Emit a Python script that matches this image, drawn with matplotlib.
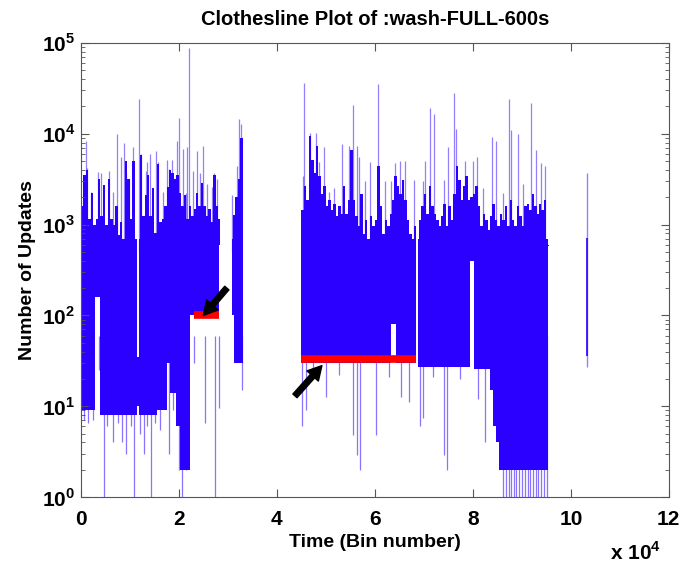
import numpy as np
import matplotlib.pyplot as plt
from matplotlib.ticker import FixedLocator, FuncFormatter, NullFormatter

plt.rcParams['font.family'] = ['Liberation Sans', 'DejaVu Sans']
plt.rcParams['font.weight'] = 'bold'
plt.rcParams['mathtext.fontset'] = 'custom'
plt.rcParams['mathtext.rm'] = 'Liberation Sans:bold'
plt.rcParams['mathtext.bf'] = 'Liberation Sans:bold'

# dense band of updates: bin edges and band floor per block (nan = no data)
band_edges = [0, 2000, 2800, 4000, 6500, 9000, 11500, 11900, 15500, 17600, 18200,
              19500, 20200, 22200, 28300, 30900, 31200, 33000, 45000, 46600, 48500,
              55000, 59000, 63300, 64300, 68500, 68900, 74500, 79400, 80300, 83500,
              84200, 84700, 85300, 90000, 95300]
band_lo = [9, 9, 160, 8, 8, 8, 10, 8, 9, 30, 14, 6, 2, 100, np.nan, 100, 30, np.nan,
           30, 30, 30, 30, 30, 80, 30, np.nan, 27, 27, 400, 26, 15, 6, 4, 2, 2]
band_hi = [700, 700, 700, 700, 700, 700, 35, 700, 700, 700, 700, 700, 700, 700,
           np.nan, 700, 700, np.nan, 700, 700, 700, 700, 700, 700, 700, np.nan,
           700, 700, 700, 700, 700, 700, 700, 700, 700]

# upper edge of the solid band, one value per 500 bins
ridge1_start = 0
ridge1_top = [1600, 3500, 4000, 1150, 2200, 980, 1150, 3200, 1250, 2700, 980, 3200,
              1150, 980, 1600, 760, 1070, 630, 5000, 3200, 1150, 5000, 690, np.nan,
              5900, 1250, 2100, 3500, 1250, 2500, 810, 4600, 1070, 1150, 1600, 2600,
              4000, 3700, 3200, 3500, 2200, 1600, 2100, 1150, 1600, 1250, 1500, 2200,
              1600, 2900, 1600, 1250, 1500, 1070, 3500, 1600, 1150]
ridge2_start = 31000
ridge2_top = [1260, 2000, 3200, 9000]
ridge3_start = 45000
ridge3_top = [1445, 2630, 1862, 9333, 5129, 3715, 7244, 3388, 2188, 2630, 1585, 1862,
              1445, 1698, 1230, 1585, 1318, 2630, 1318, 1862, 6607, 1862, 1230, 955,
              2188, 794, 1122, 676, 1230, 955, 1122, 4365, 1585, 794, 1122, 955, 1318,
              1862, 3388, 2630, 2188, 3090, 1862, 1122, 794, 676, 955, np.nan, 1122,
              1585, 2188, 1318, 2630, 1585, 1318, 1122, 955, 1230, 1698, 955, 1585,
              1122, 2188, 4365, 3090, 1862, 2630, 3388, 1862, 1995, 2188, 2630, 1585,
              955, 1318, 1122, 871, 1230, 1698, 1122, 955, 1318, 1122, 1585, 955, 1862,
              1122, 955, 1585, 1230, 955, 1585, 1698, 1445, 2188, 1585, 1318, 1698,
              1445, 1862, 575]

# single bins rising above the band
spike_x = [200, 1000, 1300, 2100, 3500, 4200, 5700, 6600, 7300, 8100, 8800, 9300,
           9800, 10600, 11900, 12200, 13200, 13600, 14100, 15300, 15800, 16700, 17500,
           18000, 18600, 19400, 19600, 20000, 20900, 21500, 21700, 22100, 22800, 23800,
           24300, 24900, 25700, 26700, 27200, 27700,
           30900, 31900, 32300, 32600,
           45400, 45600, 46800, 48000, 48600, 49700, 50700, 51700, 53300, 54700, 55600,
           56300, 56800, 58000, 59000, 60600, 62100, 63200, 64100, 65200, 66200, 67900,
           69800, 70200, 71200, 72100, 74100, 75000, 76200, 76500, 78500, 80100, 80900,
           82100, 84000, 84800, 86200, 87300, 87700, 89200, 90300, 91900, 92800, 93900,
           94700]
spike_top = [1600, 8300, 4200, 2300, 3800, 3700, 3900, 2300, 10000, 5500, 7900, 3700,
             3200, 7200, 24000, 6000, 3900, 4900, 6000, 6500, 4900, 2300, 5100,
             4100, 5100, 3500, 8300, 15000, 6800, 2200, 7100, 88000, 3900, 6500,
             3700, 7400, 2800, 2600, 3700, 3200,
             2100, 4400, 14500, 12900,
             3400, 36000, 10200, 10200, 4900, 7100, 2300, 2500, 7800, 7400, 21000,
             7400, 5500, 3000, 4900, 35000, 3000, 3000, 4800, 5000, 5000, 3100,
             3000, 5000, 19000, 16600, 3100, 7200, 28000, 11200, 5000, 5000, 5600,
             2500, 9100, 8300, 2200, 24000, 11000, 10000, 2800, 22000, 6700, 4800,
             4400]

# single bins dropping below the band
dip_x = [700, 1500, 2400, 3800, 4700, 5300, 6500, 7600, 8300, 9300, 10200, 10900,
         12100, 12800, 13500, 14300, 15100, 16200, 17900, 18800, 20000,
         20600, 21500, 23100, 25300, 27400, 28200, 32900,
         45200, 45900, 47300, 50000, 52600, 55600, 56300, 57000, 60300, 62800, 65400,
         67000, 69200, 69800, 71800, 74100, 74700, 77300, 81100, 82500,
         86200, 86700, 87300, 87800, 88400, 88900, 89500, 90100, 90600, 91200, 91700,
         92300, 92800, 93400, 94000, 94600, 95100]
dip_low = [7, 6.5, 7, 25, 1, 6, 4, 6.5, 4, 3, 6, 1,
           5, 3, 6, 1, 6.5, 5.5, 3, 9, 2,
           1, 2, 30, 6.5, 1, 9.5, 15,
           6, 9, 20, 12.5, 22, 4.8, 2.9, 2, 4.8, 21, 12.5,
           11, 6, 7.5, 21, 2.9, 2, 20, 12, 4,
           1, 1, 1, 1, 1, 1, 1, 1, 1, 1, 1, 1, 1, 1, 1, 1, 1]

# lone burst near the end
lone_x = 103300
lone_lo, lone_hi = 27, 3700
lone_core_lo, lone_core_hi = 36, 720

# the two flat stretches marked in red
flat_start = [23000, 45000]
flat_end = [28200, 68500]
flat_level = [100, 33]

# arrows: tail (x, y) and head (x, y)
arrow_tail = [(29800, 200), (43700, 13)]
arrow_head = [(25000, 100), (49200, 28)]

blue = '#2b00ff'

fig = plt.figure(figsize=(6.81, 5.69), dpi=100)
ax = fig.add_axes([0.1187, 0.1265, 0.8634, 0.798])
ax.set_yscale('log')

edges = np.array(band_edges, dtype=float)
lo = np.array(band_lo, dtype=float)
hi = np.array(band_hi, dtype=float)
ok = ~np.isnan(lo)
ax.bar(edges[:-1][ok], (hi - lo)[ok], width=np.diff(edges)[ok], bottom=lo[ok],
       align='edge', color=blue, linewidth=0)

for start, tops in [(ridge1_start, ridge1_top), (ridge2_start, ridge2_top),
                    (ridge3_start, ridge3_top)]:
    tops = np.array(tops, dtype=float)
    xs = start + 500 * np.arange(len(tops))
    good = ~np.isnan(tops)
    ax.bar(xs[good], tops[good] - 600, width=500, bottom=600, align='edge',
           color=blue, linewidth=0)

ax.vlines(spike_x, 500, spike_top, color=blue, alpha=0.5, linewidth=0.9)
ax.vlines(dip_x, dip_low, 60, color=blue, alpha=0.55, linewidth=0.9)
ax.vlines(lone_x, lone_lo, lone_hi, color=blue, alpha=0.5, linewidth=1.0)
ax.vlines(lone_x, lone_core_lo, lone_core_hi, color=blue, linewidth=1.2)

ax.hlines(flat_level, flat_start, flat_end, color='red', linewidth=5.5)

for t, h in zip(arrow_tail, arrow_head):
    ax.annotate('', xy=h, xytext=t,
                arrowprops=dict(facecolor='black', edgecolor='black', width=4,
                                headwidth=11, headlength=10, shrink=0))

ax.set_xlim(0, 120000)
ax.set_ylim(1, 1e5)
ax.xaxis.set_major_locator(FixedLocator(np.arange(0, 120001, 20000)))
ax.xaxis.set_major_formatter(FuncFormatter(lambda v, p: '%d' % round(v / 1e4)))
ax.yaxis.set_major_formatter(FuncFormatter(lambda v, p: r'$10^{%d}$' % round(np.log10(v))))
ax.yaxis.set_minor_formatter(NullFormatter())
ax.tick_params(which='both', direction='in', top=True, right=True, color='#555555')
ax.tick_params(which='major', length=6, labelsize=15)
ax.tick_params(axis='x', which='major', pad=9)
ax.tick_params(axis='y', which='major', pad=4)
ax.tick_params(which='minor', length=3)
for s in ax.spines.values():
    s.set_color('#555555')

ax.set_title('Clothesline Plot of :wash-FULL-600s', fontsize=14.5, fontweight='bold', pad=13)
ax.set_xlabel('Time (Bin number)', fontsize=14, fontweight='bold', labelpad=4)
ax.set_ylabel('Number of Updates', fontsize=14, fontweight='bold', labelpad=4)
ax.text(0.9, -0.147, r'x $10^{4}$', transform=ax.transAxes, fontsize=15,
        fontweight='bold', va='bottom', ha='left')

fig.savefig('out.png', dpi=100)
